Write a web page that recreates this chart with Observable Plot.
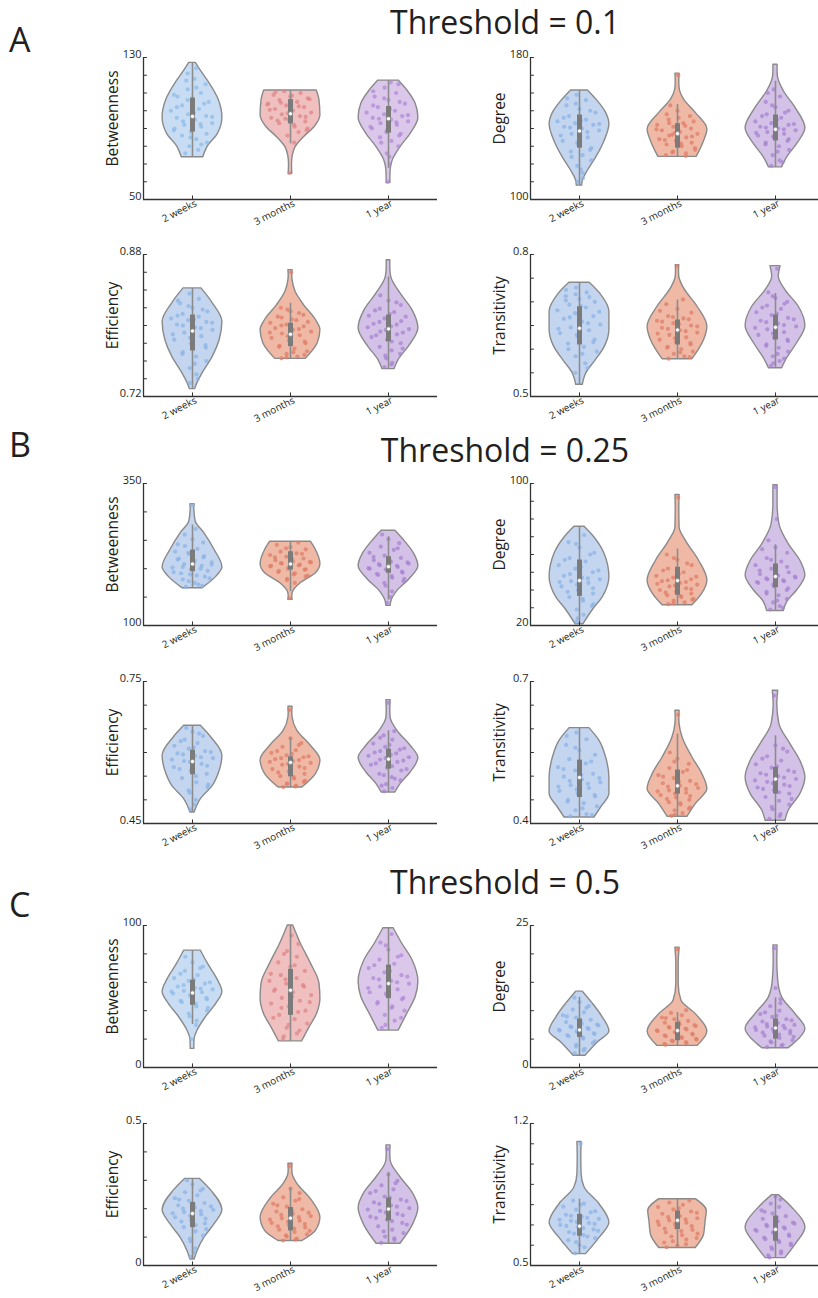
<!DOCTYPE html>
<html><head><meta charset="utf-8">
<script src="https://cdn.jsdelivr.net/npm/d3@7"></script>
<script src="https://cdn.jsdelivr.net/npm/@observablehq/plot@0.6"></script>
<style>
html,body{margin:0;padding:0;background:#fff;overflow:hidden;}
#page{position:relative;width:818px;height:1298px;font-family:"Open Sans",sans-serif;color:#231f20;overflow:hidden;}
.title{position:absolute;font-size:32px;line-height:normal;white-space:nowrap;transform:translateX(-50%);}
.letter{position:absolute;font-size:34px;line-height:normal;}
.panel{position:absolute;}
.panel svg{overflow:hidden;}
</style></head><body><div id="page"></div>
<script>
// ---------- categories & labels ----------
const groups = ["2 weeks", "3 months", "1 year"];
const sectionLetters = ["A", "B", "C"];
const thresholdTitles = ["Threshold = 0.1", "Threshold = 0.25", "Threshold = 0.5"];
const metricNames = ["Betweenness", "Degree", "Efficiency", "Transitivity"];

// ---------- axis: [min, max, tick step] ----------
const A_bet_axis = [50, 130, 10];
const A_deg_axis = [100, 180, 10];
const A_eff_axis = [0.72, 0.88, 0.02];
const A_tra_axis = [0.5, 0.8, 0.05];
const B_bet_axis = [100, 350, 50];
const B_deg_axis = [20, 100, 10];
const B_eff_axis = [0.45, 0.75, 0.05];
const B_tra_axis = [0.4, 0.7, 0.05];
const C_bet_axis = [0, 100, 20];
const C_deg_axis = [0, 25, 5];
const C_eff_axis = [0, 0.5, 0.1];
const C_tra_axis = [0.5, 1.2, 0.1];

// ---------- violin density profiles: [value, relative density] per group ----------
const A_bet_shape = [
  [[73.8,0.36],[79.5,0.5],[87,0.85],[96,1],[106,0.88],[116,0.55],[122,0.3],[127,0.11]],
  [[64.5,0.06],[70,0.05],[75,0.08],[79.5,0.17],[85.1,0.45],[90.7,0.8],[97.3,1],[105.8,0.97],[111.4,0.88]],
  [[59.2,0.06],[66.3,0.07],[72,0.14],[79.5,0.4],[87,0.74],[96,1],[103.9,0.91],[111.4,0.63],[117,0.34]]
];
const A_deg_shape = [
  [[107.8,0.09],[110.6,0.11],[116.2,0.28],[123.7,0.56],[133,0.84],[142.4,1],[148.8,0.89],[155.4,0.61],[161.4,0.28]],
  [[124,0.64],[133,0.89],[139.5,1],[148.8,0.61],[156.3,0.22],[162.8,0.07],[167,0.06],[170.9,0.07]],
  [[118.1,0.22],[123.7,0.39],[131.2,0.72],[140.1,1],[151.6,0.67],[161,0.28],[168.4,0.09],[172,0.07],[175.9,0.07]]
];
const A_eff_shape = [
  [[0.7283,0.09],[0.7331,0.14],[0.7463,0.34],[0.765,0.68],[0.7837,0.91],[0.8043,1],[0.825,0.68],[0.8418,0.3]],
  [[0.7624,0.51],[0.78,0.91],[0.795,1],[0.8062,0.85],[0.823,0.45],[0.838,0.17],[0.8511,0.07],[0.857,0.06],[0.8624,0.07]],
  [[0.7508,0.2],[0.7612,0.34],[0.7762,0.68],[0.7969,1],[0.8174,0.8],[0.8362,0.4],[0.8548,0.09],[0.865,0.06],[0.8736,0.06]]
];
const A_tra_shape = [
  [[0.5247,0.11],[0.5493,0.23],[0.5737,0.51],[0.6053,0.85],[0.6405,1],[0.6791,1],[0.7143,0.73],[0.7402,0.34]],
  [[0.5788,0.5],[0.6195,0.89],[0.6475,1],[0.6896,0.67],[0.7284,0.22],[0.7528,0.06],[0.765,0.05],[0.7775,0.06]],
  [[0.5598,0.22],[0.5809,0.39],[0.6125,0.72],[0.649,1],[0.6896,0.78],[0.7248,0.33],[0.7528,0.11],[0.7754,0.17]]
];
const B_bet_shape = [
  [[165.7,0.34],[186,0.8],[202.5,1],[232.9,0.74],[262.2,0.4],[282.6,0.11],[297.3,0.07],[305,0.06],[313.7,0.07]],
  [[145.1,0.07],[152,0.06],[159.7,0.09],[174.4,0.34],[192,0.85],[208.3,1],[232.9,0.85],[247.5,0.68]],
  [[134.6,0.07],[145.1,0.11],[159.7,0.28],[180.2,0.68],[204.8,1],[227.1,0.85],[250.5,0.51],[266.8,0.23]]
];
const B_deg_shape = [
  [[20.7,0.13],[28.6,0.44],[36,0.78],[47.2,1],[60.3,0.84],[69.6,0.5],[75.6,0.17]],
  [[31.4,0.5],[37.9,0.83],[45.3,1],[56.5,0.72],[67.7,0.28],[75.2,0.07],[86.4,0.06],[93.5,0.07]],
  [[28.2,0.28],[33.2,0.39],[39.7,0.72],[48.1,1],[56.5,0.83],[65.9,0.44],[77.1,0.13],[88.3,0.07],[99,0.07]]
];
const B_eff_shape = [
  [[0.4732,0.07],[0.5016,0.28],[0.5296,0.68],[0.5613,0.91],[0.593,1],[0.6317,0.63],[0.6564,0.28]],
  [[0.526,0.4],[0.5544,0.85],[0.5839,1],[0.6142,0.68],[0.6458,0.23],[0.674,0.07],[0.685,0.06],[0.6965,0.07]],
  [[0.5155,0.23],[0.5332,0.4],[0.5578,0.74],[0.5882,1],[0.6142,0.74],[0.6423,0.34],[0.674,0.07],[0.69,0.06],[0.7107,0.07]]
];
const B_tra_shape = [
  [[0.4127,0.5],[0.4338,0.72],[0.4621,1],[0.4972,1],[0.5394,0.89],[0.5747,0.67],[0.6015,0.33]],
  [[0.4142,0.33],[0.4411,0.61],[0.4727,1],[0.5044,0.83],[0.5394,0.5],[0.5817,0.17],[0.61,0.07],[0.625,0.06],[0.6381,0.07]],
  [[0.4057,0.33],[0.4268,0.44],[0.4621,0.83],[0.4972,1],[0.5325,0.83],[0.5677,0.5],[0.61,0.13],[0.6523,0.06],[0.6804,0.09]]
];
const C_bet_shape = [
  [[13.1,0.06],[20.1,0.07],[26,0.17],[35.5,0.45],[45,0.8],[53.2,1],[61.5,0.85],[73.3,0.51],[82.3,0.28]],
  [[18.4,0.39],[27.2,0.61],[37.9,0.89],[48.5,1],[59.1,0.97],[73.3,0.68],[87.5,0.34],[100,0.09]],
  [[26,0.34],[37.9,0.63],[49.6,0.91],[60.3,1],[75.7,0.8],[87.5,0.45],[98.1,0.17]]
];
const C_deg_shape = [
  [[2.06,0.2],[4.4,0.61],[6.35,1],[8.8,0.78],[11.2,0.45],[13.35,0.11]],
  [[3.8,0.67],[6.35,1],[9.4,0.61],[11.8,0.13],[14.7,0.04],[18.2,0.04],[21.1,0.07]],
  [[3.4,0.44],[4.4,0.67],[6.8,1],[9.4,0.67],[12.35,0.22],[15.3,0.09],[18.8,0.06],[21.5,0.07]]
];
const C_eff_shape = [
  [[0.0213,0.07],[0.0507,0.17],[0.0979,0.4],[0.1454,0.74],[0.195,1],[0.2635,0.63],[0.305,0.25]],
  [[0.0862,0.4],[0.1217,0.85],[0.1688,1],[0.234,0.68],[0.2872,0.23],[0.3227,0.07],[0.34,0.06],[0.3582,0.07]],
  [[0.0766,0.4],[0.1394,0.8],[0.2021,1],[0.2575,0.8],[0.3107,0.4],[0.3699,0.07],[0.395,0.06],[0.423,0.07]]
];
const C_tra_shape = [
  [[0.5562,0.22],[0.6358,0.67],[0.7105,1],[0.802,0.67],[0.8846,0.17],[0.9513,0.07],[1.0338,0.06],[1.1085,0.07]],
  [[0.5861,0.61],[0.6528,0.89],[0.7189,0.94],[0.7687,0.98],[0.8269,0.61]],
  [[0.5363,0.33],[0.603,0.67],[0.6856,1],[0.7851,0.56],[0.8468,0.11]]
];

// ---------- box stats: [whisker low, q1, median, q3, whisker high] ----------
const A_bet_box = [[73.8,88,96.8,107.1,127],[81.4,92.6,98.3,106.3,111.4],[67.5,87.4,95.5,102.4,117]];
const A_deg_box = [[107.8,128.9,138.6,147.6,161.4],[124,128.9,137.1,142.7,153.5],[118.1,133,139.5,147.6,166.6]];
const A_eff_box = [[0.7283,0.7713,0.7938,0.8118,0.8418],[0.7624,0.7762,0.7901,0.8025,0.825],[0.7508,0.7818,0.7961,0.8118,0.8548]];
const A_tra_box = [[0.5247,0.6089,0.6441,0.6896,0.7402],[0.5788,0.6089,0.6405,0.6616,0.7037],[0.5598,0.6195,0.6462,0.6721,0.7178]];
const B_bet_box = [[165.7,194.8,208.3,232.9,276.8],[159.7,197.8,208.3,229.9,247.5],[145.1,192,203.6,221.1,256.3]];
const B_deg_box = [[20.7,36.4,45.3,56.9,75.6],[31.4,37,45.3,52.8,63.1],[28.2,41.3,47.6,54.7,65.5]];
const B_eff_box = [[0.4732,0.5529,0.581,0.605,0.6564],[0.526,0.5487,0.5789,0.5909,0.6317],[0.5155,0.5649,0.586,0.6072,0.6458]];
const B_tra_box = [[0.4127,0.4549,0.4972,0.5339,0.6015],[0.4142,0.4621,0.4796,0.5129,0.5889],[0.4057,0.4621,0.4938,0.5183,0.5853]];
const C_bet_box = [[30.3,43.8,52.5,61.5,82.3],[18.4,36.7,54.4,69.1,100],[26,48.5,59.1,72.1,98.1]];
const C_deg_box = [[2.06,5.3,6.6,8.54,12.35],[3.8,4.71,6.5,7.94,9.7],[3.4,5.0,6.95,8.54,12.24]];
const C_eff_box = [[0.0213,0.1333,0.183,0.222,0.305],[0.0862,0.1217,0.1667,0.2043,0.2752],[0.0766,0.1571,0.1986,0.2376,0.3284]];
const C_tra_box = [[0.5562,0.6443,0.694,0.7522,0.8269],[0.5861,0.6776,0.7224,0.7687,0.8269],[0.5363,0.6194,0.6776,0.7438,0.8468]];

// ---------- individual subjects (dots) ----------
const A_bet_dots = [
  [76,78,80,82,84,86,87,88,90,91,92,93,95,96,97,98,100,101,103,105,107,108,110,112,115,118,121,81,85,89,92.5,94,96.5,99,102,104,106,109,113,117,124],
  [65,82,86,89,91,93,94,95,96,97,98,99,100,101,102,103,104,105,106,107,108,109,110,111,90,92,94.5,96.5,98.5,100.5,102.5,104.5,106.5,108.5,110.5,88,95.5,103.5],
  [60,70,76,80,83,85,87,89,90,92,93,94,95,96,97,98,99,100,102,104,106,108,110,113,115,74,82,86,88,91,93.5,95.5,97.5,101,103,105,107,111,116]
];
const A_deg_dots = [
  [110,115,119,122,125,127,129,131,133,135,137,139,140,141,142,143,144,145,147,149,151,153,156,159,112,117,124,128,132,136,138,140.5,142.5,144.5,146,150,154,157],
  [125,126,127,128,130,131,132,133,134,135,136,137,138,139,140,141,142,143,145,147,150,153,170,126.5,129,131.5,133.5,135.5,137.5,139.5,141.5,143,144,146,148,124.5,136.5],
  [119,122,125,128,130,132,134,135,136,137,138,139,140,141,142,143,144,146,148,150,152,155,158,162,121,127,131,133,135.5,137.5,139.5,140.5,142.5,145,147,149,153,160]
];
const A_eff_dots = [
  [0.735,0.745,0.752,0.76,0.765,0.77,0.775,0.78,0.784,0.788,0.792,0.795,0.798,0.801,0.804,0.806,0.808,0.81,0.813,0.816,0.82,0.825,0.83,0.836,0.74,0.757,0.768,0.778,0.786,0.79,0.797,0.8,0.803,0.807,0.811,0.818,0.822,0.828],
  [0.763,0.765,0.768,0.771,0.774,0.777,0.78,0.783,0.786,0.789,0.791,0.793,0.795,0.797,0.799,0.801,0.803,0.806,0.809,0.812,0.816,0.82,0.86,0.764,0.767,0.77,0.776,0.782,0.788,0.792,0.796,0.8,0.804,0.807,0.81,0.814,0.818],
  [0.753,0.758,0.763,0.768,0.772,0.776,0.78,0.784,0.787,0.79,0.793,0.796,0.799,0.802,0.805,0.808,0.811,0.815,0.819,0.823,0.828,0.834,0.756,0.766,0.774,0.782,0.789,0.792,0.795,0.798,0.801,0.804,0.81,0.813,0.817,0.826]
];
const A_tra_dots = [
  [0.55,0.57,0.585,0.595,0.605,0.612,0.62,0.627,0.634,0.64,0.646,0.652,0.658,0.664,0.67,0.676,0.682,0.688,0.694,0.7,0.706,0.712,0.72,0.73,0.56,0.59,0.6,0.615,0.63,0.643,0.655,0.667,0.679,0.691,0.703,0.71,0.716,0.725],
  [0.58,0.585,0.59,0.595,0.6,0.605,0.61,0.615,0.62,0.625,0.63,0.635,0.64,0.645,0.65,0.655,0.66,0.665,0.67,0.677,0.685,0.695,0.705,0.775,0.583,0.593,0.603,0.613,0.623,0.633,0.638,0.643,0.648,0.653,0.658,0.663,0.668,0.681],
  [0.565,0.575,0.585,0.595,0.603,0.61,0.617,0.624,0.63,0.636,0.642,0.648,0.654,0.66,0.666,0.672,0.678,0.685,0.692,0.7,0.708,0.72,0.77,0.57,0.58,0.59,0.607,0.62,0.633,0.645,0.651,0.657,0.663,0.675,0.688,0.696,0.712]
];
const B_bet_dots = [
  [168,172,178,183,188,192,196,199,202,205,208,211,214,218,222,226,230,235,240,246,252,260,270,312,170,175,181,186,190,194,200,203,207,210,216,220,228,243],
  [148,175,182,188,192,196,199,202,205,207,209,211,213,215,218,221,224,227,230,234,238,242,246,180,186,190,194,198,200,204,206,210,212,217,220,226,236],
  [140,160,170,178,184,189,193,197,200,203,206,209,212,215,219,223,228,233,239,245,252,260,150,175,182,187,191,195,199,201,205,208,211,214,221,236]
];
const B_deg_dots = [
  [22,26,29,32,34,36,38,40,42,44,45,46,47,48,50,52,54,56,58,61,64,67,71,24,31,35,39,41,43,44.5,46.5,49,51,53,57,60,66],
  [32,33,34,35,36,37,38,39,40,41,42,43,44,45,46,47,48,50,52,54,57,60,92,32.5,34.5,36.5,38.5,40.5,42.5,43.5,44.5,45.5,47.5,49,51,55,58],
  [29,31,33,35,37,39,41,42,44,45,46,47,48,49,50,52,54,56,58,61,64,68,80,98,30,34,38,40,43,44.5,45.5,46.5,47.5,48.5,51,53,57,63]
];
const B_eff_dots = [
  [0.48,0.5,0.515,0.527,0.537,0.546,0.555,0.562,0.569,0.576,0.582,0.588,0.593,0.598,0.603,0.608,0.614,0.62,0.627,0.635,0.644,0.652,0.49,0.52,0.532,0.55,0.565,0.572,0.58,0.585,0.59,0.596,0.601,0.611,0.624,0.64],
  [0.527,0.53,0.535,0.54,0.545,0.55,0.555,0.56,0.565,0.57,0.574,0.578,0.582,0.586,0.59,0.594,0.599,0.605,0.612,0.62,0.63,0.69,0.528,0.533,0.538,0.548,0.558,0.567,0.576,0.58,0.584,0.588,0.592,0.597,0.603,0.616],
  [0.518,0.525,0.533,0.541,0.548,0.555,0.562,0.568,0.574,0.58,0.585,0.59,0.595,0.6,0.606,0.612,0.619,0.627,0.636,0.645,0.705,0.53,0.545,0.552,0.565,0.571,0.577,0.583,0.588,0.593,0.598,0.603,0.609,0.616,0.631]
];
const B_tra_dots = [
  [0.415,0.42,0.428,0.436,0.443,0.45,0.457,0.463,0.469,0.475,0.481,0.487,0.493,0.499,0.505,0.512,0.519,0.527,0.536,0.545,0.555,0.566,0.578,0.592,0.418,0.432,0.446,0.46,0.472,0.478,0.484,0.49,0.496,0.502,0.515,0.531,0.56,0.585],
  [0.416,0.422,0.428,0.434,0.44,0.445,0.45,0.455,0.46,0.465,0.47,0.475,0.48,0.485,0.49,0.496,0.502,0.509,0.517,0.526,0.537,0.55,0.63,0.419,0.431,0.443,0.452,0.458,0.463,0.468,0.473,0.478,0.483,0.488,0.499,0.513,0.531],
  [0.41,0.42,0.43,0.44,0.448,0.456,0.463,0.47,0.476,0.482,0.488,0.494,0.5,0.506,0.512,0.518,0.525,0.533,0.542,0.552,0.565,0.67,0.415,0.435,0.452,0.466,0.473,0.479,0.485,0.491,0.497,0.503,0.509,0.521,0.537,0.558]
];
const C_bet_dots = [
  [20,30,36,40,43,46,48,50,52,53,54,55,56,57,59,61,63,65,68,71,74,78,33,38,42,45,47,49,51,53.5,55.5,58,60,62,66,70],
  [20,24,28,31,34,37,40,43,45,47,49,51,53,55,57,59,61,63,65,68,71,74,78,82,87,93,22,26,30,35,39,42,46,50,54,58,62,66,72,80],
  [28,33,37,40,43,46,49,51,53,55,57,59,61,63,65,67,70,73,76,79,83,88,94,30,35,42,45,48,52,56,60,62,64,68,72,78,86]
];
const C_deg_dots = [
  [2.5,3.3,4,4.6,5.1,5.5,5.9,6.2,6.5,6.8,7.1,7.4,7.7,8,8.4,8.8,9.2,9.7,10.2,10.8,11.5,12.3,3,3.7,4.3,5.3,5.7,6,6.35,6.65,6.95,7.25,7.55,8.2,9,10.5],
  [4,4.3,4.6,4.9,5.2,5.5,5.8,6.1,6.4,6.7,7,7.3,7.6,7.9,8.2,8.5,8.8,9.2,9.6,10.1,20.8,4.15,4.45,4.75,5.05,5.35,5.65,5.95,6.25,6.55,6.85,7.15,7.45,8,8.7],
  [3.6,4,4.4,4.8,5.2,5.6,6,6.3,6.6,6.9,7.2,7.5,7.8,8.1,8.5,8.9,9.4,10,10.8,12,14,21,3.8,4.6,5.4,5.8,6.15,6.45,6.75,7.05,7.35,7.65,8.3,9.1,9.7,11.3]
];
const C_eff_dots = [
  [0.03,0.06,0.085,0.105,0.12,0.135,0.148,0.16,0.17,0.18,0.188,0.196,0.204,0.212,0.22,0.228,0.237,0.247,0.258,0.27,0.285,0.3,0.045,0.095,0.128,0.142,0.155,0.165,0.175,0.184,0.192,0.2,0.208,0.216,0.232,0.264],
  [0.088,0.095,0.102,0.11,0.118,0.126,0.134,0.142,0.15,0.158,0.166,0.174,0.182,0.19,0.198,0.207,0.217,0.228,0.24,0.255,0.27,0.35,0.091,0.106,0.122,0.13,0.138,0.146,0.154,0.162,0.17,0.178,0.186,0.194,0.212,0.234],
  [0.08,0.09,0.102,0.114,0.126,0.138,0.15,0.161,0.172,0.182,0.192,0.202,0.212,0.222,0.232,0.243,0.255,0.268,0.282,0.298,0.32,0.41,0.096,0.12,0.144,0.156,0.167,0.177,0.187,0.197,0.207,0.217,0.227,0.238,0.262,0.29]
];
const C_tra_dots = [
  [0.56,0.59,0.615,0.635,0.65,0.665,0.678,0.69,0.7,0.71,0.72,0.73,0.74,0.75,0.762,0.775,0.79,0.805,0.82,1.1,0.6,0.625,0.643,0.657,0.671,0.684,0.695,0.705,0.715,0.725,0.735,0.745,0.768,0.8],
  [0.59,0.605,0.62,0.635,0.65,0.663,0.676,0.688,0.7,0.711,0.722,0.733,0.744,0.755,0.766,0.777,0.788,0.799,0.81,0.82,0.598,0.613,0.628,0.643,0.657,0.67,0.682,0.694,0.705,0.716,0.727,0.738,0.76,0.782],
  [0.54,0.56,0.58,0.6,0.615,0.63,0.645,0.658,0.67,0.682,0.694,0.706,0.718,0.73,0.743,0.757,0.772,0.788,0.805,0.825,0.84,0.55,0.57,0.59,0.608,0.622,0.638,0.652,0.664,0.676,0.688,0.7,0.712,0.736,0.765]
];

// ---------- styling ----------
const palettes = [
  [{fill:"#c3d5ef",dot:"#8cb3e6"},{fill:"#efb9a6",dot:"#df7f68"},{fill:"#d4c1e7",dot:"#a783d0"}],
  [{fill:"#c8ddf3",dot:"#8fbbe8"},{fill:"#f0bfbf",dot:"#df8585"},{fill:"#dac7ea",dot:"#b08ad6"}]
];

const panels = [
  {metric: metricNames[0], axis: A_bet_axis, shape: A_bet_shape, box: A_bet_box, dots: A_bet_dots, row: 0, col: 0, pal: 1},
  {metric: metricNames[1], axis: A_deg_axis, shape: A_deg_shape, box: A_deg_box, dots: A_deg_dots, row: 0, col: 1, pal: 0},
  {metric: metricNames[2], axis: A_eff_axis, shape: A_eff_shape, box: A_eff_box, dots: A_eff_dots, row: 1, col: 0, pal: 0},
  {metric: metricNames[3], axis: A_tra_axis, shape: A_tra_shape, box: A_tra_box, dots: A_tra_dots, row: 1, col: 1, pal: 0},
  {metric: metricNames[0], axis: B_bet_axis, shape: B_bet_shape, box: B_bet_box, dots: B_bet_dots, row: 2, col: 0, pal: 0},
  {metric: metricNames[1], axis: B_deg_axis, shape: B_deg_shape, box: B_deg_box, dots: B_deg_dots, row: 2, col: 1, pal: 0},
  {metric: metricNames[2], axis: B_eff_axis, shape: B_eff_shape, box: B_eff_box, dots: B_eff_dots, row: 3, col: 0, pal: 0},
  {metric: metricNames[3], axis: B_tra_axis, shape: B_tra_shape, box: B_tra_box, dots: B_tra_dots, row: 3, col: 1, pal: 0},
  {metric: metricNames[0], axis: C_bet_axis, shape: C_bet_shape, box: C_bet_box, dots: C_bet_dots, row: 4, col: 0, pal: 1},
  {metric: metricNames[1], axis: C_deg_axis, shape: C_deg_shape, box: C_deg_box, dots: C_deg_dots, row: 4, col: 1, pal: 0},
  {metric: metricNames[2], axis: C_eff_axis, shape: C_eff_shape, box: C_eff_box, dots: C_eff_dots, row: 5, col: 0, pal: 0},
  {metric: metricNames[3], axis: C_tra_axis, shape: C_tra_shape, box: C_tra_box, dots: C_tra_dots, row: 5, col: 1, pal: 0}
];

// ---------- layout ----------
const page = document.getElementById("page");
const rowTops = [57, 254, 483, 681, 925, 1123];
const titleTops = [0, 428, 860];
const letterTops = [16, 421, 881];
const plotH = 142, mt = 14, mb = 40, band = 98, maxHalf = 0.305;
const axisColor = "#333";

thresholdTitles.forEach((t, i) => {
  const d = document.createElement("div");
  d.className = "title"; d.textContent = t;
  d.style.left = "505px"; d.style.top = titleTops[i] + "px";
  page.appendChild(d);
  const l = document.createElement("div");
  l.className = "letter"; l.textContent = sectionLetters[i];
  l.style.left = "9px"; l.style.top = letterTops[i] + "px";
  page.appendChild(l);
});

function halfAt(prof, v) {
  if (v <= prof[0][0]) return prof[0][1];
  for (let k = 1; k < prof.length; k++) {
    if (v <= prof[k][0]) {
      const [v0, w0] = prof[k - 1], [v1, w1] = prof[k];
      return w0 + (w1 - w0) * (v - v0) / (v1 - v0);
    }
  }
  return prof[prof.length - 1][1];
}
// deterministic horizontal spread of the dots inside each violin
const spread = i => ((i * 0.618034 + 0.137) % 1) * 2 - 1;

panels.forEach(p => {
  const [lo, hi, step] = p.axis;
  const right = p.col === 1;
  const xMax = right ? 2.94 : 3;
  const ml = right ? 130 : 143;
  const plotW = xMax * band;
  const width = right ? 418 : 440;
  const mr = width - ml - plotW;
  const nT = Math.round((hi - lo) / step);
  const ticks = d3.range(nT + 1).map(k => +(lo + k * step).toFixed(6));
  const marks = [];
  p.shape.forEach((prof, gi) => {
    const c = gi + 0.5;
    const col = palettes[p.pal][gi];
    marks.push(Plot.areaX(prof, {
      y: d => d[0], x1: d => c - d[1] * maxHalf, x2: d => c + d[1] * maxHalf,
      fill: col.fill, stroke: "#8a8a8a", strokeWidth: 1.4, curve: "monotone-y"
    }));
    marks.push(Plot.dot(p.dots[gi], {
      x: (v, i) => c + spread(i) * 0.8 * halfAt(prof, v) * maxHalf, y: v => v,
      r: 2.1, fill: col.dot, fillOpacity: 0.75
    }));
    const b = p.box[gi];
    marks.push(Plot.ruleX([c], {x: d => d, y1: () => b[0], y2: () => b[4], stroke: "#8c8c8c", strokeWidth: 1.6}));
    marks.push(Plot.ruleX([c], {x: d => d, y1: () => b[1], y2: () => b[3], stroke: "#7b7b7b", strokeWidth: 5}));
    marks.push(Plot.dot([c], {x: d => d, y: () => b[2], r: 2.1, fill: "white", stroke: "#8a8a8a", strokeWidth: 0.8}));
  });
  // axes
  marks.push(Plot.ruleY(ticks, {y: d => d, x1: () => 0, x2: () => 0.04, stroke: axisColor, strokeWidth: 1}));
  marks.push(Plot.ruleX([0.5, 1.5, 2.5], {x: d => d, y1: () => lo, y2: () => lo + (hi - lo) * 0.025, stroke: axisColor, strokeWidth: 1}));
  marks.push(Plot.ruleX([0], {x: d => d, y1: () => lo, y2: () => hi, stroke: axisColor, strokeWidth: 1.3}));
  marks.push(Plot.ruleY([lo], {y: d => d, x1: () => 0, x2: () => 3, stroke: axisColor, strokeWidth: 1.3}));
  marks.push(Plot.text([lo, hi], {y: d => d, frameAnchor: "left", textAnchor: "end", dx: -2, dy: -3, text: d => String(d), fontSize: 11, fill: "#231f20"}));
  marks.push(Plot.text([p.metric], {frameAnchor: "left", textAnchor: "middle", rotate: -90, dx: -30, dy: -10, text: d => d, fontSize: 15.5, fill: "#231f20"}));
  marks.push(Plot.text(groups, {x: (d, i) => i + 0.5, frameAnchor: "bottom", textAnchor: "end", rotate: -27, dx: 5, dy: 6, text: d => d, fontSize: 10, fill: "#231f20"}));

  const chart = Plot.plot({
    width, height: mt + plotH + mb,
    marginLeft: ml, marginRight: mr, marginTop: mt, marginBottom: mb,
    x: {domain: [0, xMax], axis: null},
    y: {domain: [lo, hi], axis: null},
    style: {fontFamily: "Open Sans, sans-serif", background: "transparent", overflow: "hidden"},
    marks
  });
  const holder = document.createElement("div");
  holder.className = "panel";
  holder.style.left = (right ? 400 : 0) + "px";
  holder.style.top = (rowTops[p.row] - mt) + "px";
  holder.appendChild(chart);
  page.appendChild(holder);
});
</script></body></html>
